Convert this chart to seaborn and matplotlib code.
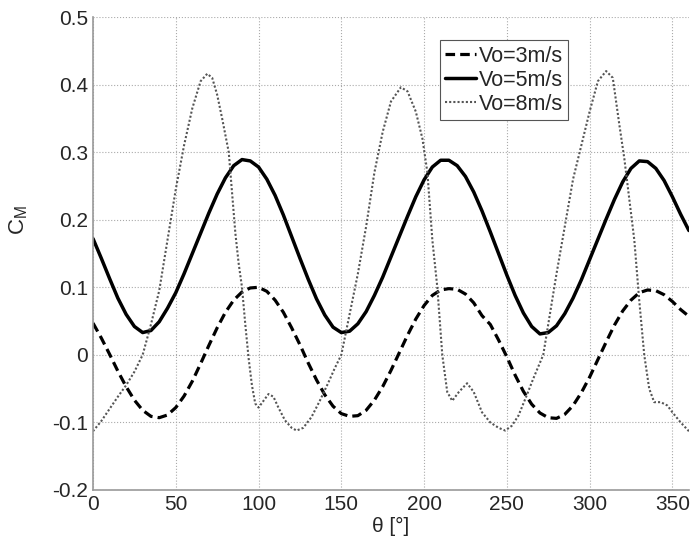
import numpy as np
import pandas as pd
import matplotlib
matplotlib.use('Agg')
import matplotlib.pyplot as plt
import seaborn as sns

# ── Данные ───────────────────────────────────────────────────────────────────
theta_5deg = list(range(0, 361, 5))

cm_vo3 = [0.047, 0.025, 0.001, -0.024, -0.047, -0.067, -0.082, -0.091, -0.093, -0.089,
          -0.078, -0.061, -0.039, -0.013, 0.014, 0.040, 0.063, 0.081, 0.093, 0.099,
          0.100, 0.094, 0.081, 0.063, 0.040, 0.015, -0.012, -0.037, -0.059, -0.076,
          -0.087, -0.091, -0.090, -0.082, -0.067, -0.047, -0.023, 0.003, 0.029, 0.053,
          0.073, 0.088, 0.096, 0.098, 0.097, 0.090, 0.077, 0.058, 0.045, 0.022,
          -0.003, -0.030, -0.054, -0.073, -0.086, -0.093, -0.094, -0.088, -0.075, -0.056,
          -0.033, -0.007, 0.019, 0.044, 0.065, 0.081, 0.092, 0.096, 0.095, 0.089,
          0.079, 0.067, 0.057]

cm_vo5 = [0.172, 0.143, 0.113, 0.084, 0.060, 0.042, 0.033, 0.036, 0.049, 0.069,
          0.092, 0.120, 0.150, 0.180, 0.210, 0.238, 0.262, 0.280, 0.289, 0.287,
          0.278, 0.260, 0.236, 0.207, 0.175, 0.143, 0.112, 0.083, 0.059, 0.041,
          0.033, 0.035, 0.046, 0.064, 0.088, 0.115, 0.145, 0.175, 0.205, 0.234,
          0.259, 0.278, 0.288, 0.288, 0.280, 0.264, 0.241, 0.213, 0.182, 0.150,
          0.118, 0.088, 0.062, 0.042, 0.031, 0.033, 0.043, 0.061, 0.084, 0.111,
          0.141, 0.171, 0.201, 0.230, 0.256, 0.276, 0.287, 0.286, 0.276, 0.258,
          0.234, 0.208, 0.184]

theta_vo8 = [0, 5, 10, 15, 20, 25, 30, 35, 40, 45, 50, 55, 60, 65, 69, 72, 75, 78, 82, 84,
             86, 88, 90, 92, 94, 96, 98, 100, 103, 106, 109, 112, 116, 120, 123, 127, 132,
             137, 142, 146, 150, 155, 160, 165, 170, 175, 180, 186, 190, 195, 199, 202,
             205, 208, 211, 214, 217, 221, 226, 230, 235, 240, 245, 249, 253, 257, 262,
             266, 272, 276, 280, 285, 290, 295, 300, 305, 310, 314, 318, 321, 324, 327,
             330, 333, 336, 339, 343, 347, 350, 355, 360]
cm_vo8 = [-0.113, -0.098, -0.080, -0.062, -0.045, -0.025, 0.000, 0.045, 0.095, 0.170,
          0.245, 0.310, 0.365, 0.405, 0.416, 0.410, 0.385, 0.350, 0.300, 0.240,
          0.180, 0.135, 0.100, 0.045, -0.005, -0.045, -0.072, -0.078, -0.068, -0.058,
          -0.062, -0.078, -0.097, -0.108, -0.112, -0.108, -0.092, -0.068, -0.042, -0.020,
          0.000, 0.060, 0.120, 0.190, 0.270, 0.330, 0.375, 0.396, 0.390, 0.360,
          0.320, 0.270, 0.170, 0.100, 0.000, -0.055, -0.068, -0.055, -0.042, -0.055,
          -0.085, -0.100, -0.108, -0.112, -0.105, -0.090, -0.060, -0.035, 0.000, 0.060,
          0.120, 0.190, 0.260, 0.310, 0.360, 0.405, 0.420, 0.410, 0.340, 0.290,
          0.230, 0.170, 0.080, 0.000, -0.050, -0.070, -0.070, -0.075, -0.085, -0.100,
          -0.113]

series_labels = ['Vo=3m/s', 'Vo=5m/s', 'Vo=8m/s']
x_ticks = [0, 50, 100, 150, 200, 250, 300, 350]
y_ticks = [-0.2, -0.1, 0, 0.1, 0.2, 0.3, 0.4, 0.5]
y_tick_labels = ['-0.2', '-0.1', '0', '0.1', '0.2', '0.3', '0.4', '0.5']

# ── Оформление ───────────────────────────────────────────────────────────────
sns.set_style('white')
plt.rcParams['font.family'] = ['Liberation Sans', 'DejaVu Sans']
plt.rcParams['mathtext.fontset'] = 'custom'
plt.rcParams['mathtext.rm'] = 'Liberation Sans'

fig = plt.figure(figsize=(6.91, 5.40), dpi=100)
ax = fig.add_axes([0.1346, 0.0926, 0.8624, 0.8759])

df3 = pd.DataFrame({'theta': theta_5deg, 'cm': cm_vo3})
df5 = pd.DataFrame({'theta': theta_5deg, 'cm': cm_vo5})
df8 = pd.DataFrame({'theta': theta_vo8, 'cm': cm_vo8})

sns.lineplot(data=df3, x='theta', y='cm', ax=ax, color='black', lw=2.3,
             linestyle=(0, (3.0, 1.6)), label=series_labels[0])
sns.lineplot(data=df5, x='theta', y='cm', ax=ax, color='black', lw=2.5,
             label=series_labels[1])
sns.lineplot(data=df8, x='theta', y='cm', ax=ax, color='#555555', lw=1.5,
             linestyle=(0, (1, 1)), label=series_labels[2])

ax.set_xlim(0, 360)
ax.set_ylim(-0.2, 0.5)
ax.set_xticks(x_ticks)
ax.set_yticks(y_ticks)
ax.set_yticklabels(y_tick_labels)
ax.tick_params(axis='both', labelsize=15, direction='in', length=4,
               color='#999999', pad=3.5)

ax.grid(True, linestyle=':', color='#aaaaaa', lw=0.8)
for side in ['top', 'right']:
    ax.spines[side].set_visible(False)
for side in ['left', 'bottom']:
    ax.spines[side].set_color('#999999')
    ax.spines[side].set_linewidth(1.2)

ax.set_xlabel('θ [°]', fontsize=15)
ax.xaxis.set_label_coords(0.5, -0.058)
ax.set_ylabel(r'C$_\mathrm{M}$', fontsize=16)
ax.yaxis.set_label_coords(-0.106, 0.571)

leg = ax.legend(loc='upper right', bbox_to_anchor=(0.797, 0.951), borderaxespad=0,
                fontsize=15.5, handlelength=1.45, handletextpad=0.1,
                labelspacing=0.15, borderpad=0.25, fancybox=False, framealpha=1)
leg.get_frame().set_edgecolor('#555555')
leg.get_frame().set_linewidth(0.8)

plt.savefig('out.png', dpi=100)
